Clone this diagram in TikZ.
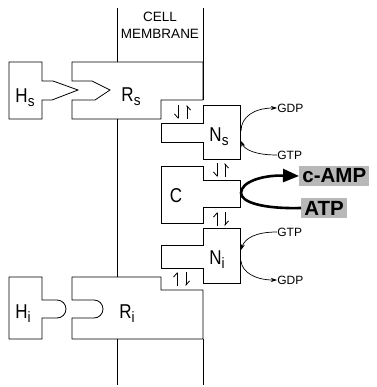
\documentclass[tikz,border=0pt]{standalone}
\usepackage{fontspec}
\setmainfont{Liberation Sans}
\usetikzlibrary{arrows.meta}
\newcommand\mylab[2]{\scalebox{0.85}[1]{#1}\raisebox{-4pt}{\scalebox{0.9}[1]{\fontsize{15}{15}\selectfont #2}}}
\begin{document}
\begin{tikzpicture}[x=1pt,y=-1pt, line width=0.8pt, line join=miter,
  mol/.style={draw=black},
  memb/.style={draw=black},
  lbl/.style={font=\fontsize{20}{20}\selectfont, inner sep=0pt, anchor=base},
  small/.style={font=\fontsize{12}{12}\selectfont, inner sep=0pt, anchor=west},
  hpl/.style={line width=0.8pt, -{Straight Barb[left,length=4pt,width=7pt]}},
  hpr/.style={line width=0.8pt, -{Straight Barb[right,length=4pt,width=7pt]}},
  thin arr/.style={line width=0.7pt, -{Stealth[length=6pt,width=4pt]}},
  big arr/.style={line width=2.6pt, -{Triangle[length=16pt,width=13pt]}},
  halo/.style={fill=black!28, inner sep=3pt, font=\bfseries\fontsize{20.5}{20.5}\selectfont}]
\useasboundingbox (0,0) rectangle (376,387);

% membrane
\draw[memb] (117,8) -- (117,62);
\draw[memb] (117,119) -- (117,277);
\draw[memb] (117,339) -- (117,385);
\draw[memb] (203,8) -- (203,100);
\draw[memb] (203,339) -- (203,385);
\node[font=\fontsize{13.5}{17}\selectfont, align=center, inner sep=0pt] (mem) at (160,25) {CELL\\MEMBRANE};

% Hs and Rs
\draw[mol] (9,62) -- (42,62) -- (42,81) -- (53,81) -- (78,90) -- (52,100) -- (42,100) -- (42,119) -- (9,119) -- cycle;
\draw[mol] (72,62) -- (203,62) -- (203,100) -- (161,100) -- (161,119) -- (72,119) -- (72,100) -- (95,100) -- (110,90) -- (92,81) -- (72,81) -- cycle;
\node[lbl] (hs) at (25,103) {\mylab{H}{s}};
\node[lbl] (rs) at (131,102) {\mylab{R}{s}};

% Ns
\draw[mol] (203,105) -- (240,105) -- (240,159) -- (203,159) -- (203,142) -- (161,142) -- (161,123) -- (203,123) -- cycle;
\node[lbl] (ns) at (219,142) {\mylab{N}{s}};

% C
\draw[mol] (161,166) -- (203,166) -- (203,180) -- (240,180) -- (240,207) -- (203,207) -- (203,223) -- (161,223) -- cycle;
\node[lbl] (c) at (176,202) {\scalebox{0.85}[1]{C}};

% Ni
\draw[mol] (203,228) -- (240,228) -- (240,283) -- (203,283) -- (203,268) -- (161,268) -- (161,245) -- (203,245) -- cycle;
\node[lbl] (ni) at (217,264) {\mylab{N}{i}};

% Hi and Ri
\draw[mol] (9,277) -- (42,277) -- (42,300) -- (57,300) arc[start angle=-90,end angle=90,radius=9] -- (42,318) -- (42,339) -- (9,339) -- cycle;
\draw[mol] (72,277) -- (161,277) -- (161,290) -- (203,290) -- (203,339) -- (72,339) -- (72,318) -- (94,318) arc[start angle=90,end angle=-90,radius=9] -- (72,300) -- cycle;
\node[lbl] (hi) at (23,318) {\mylab{H}{i}};
\node[lbl] (ri) at (127,318) {\mylab{R}{i}};

% equilibrium harpoons
\draw[hpr] (178,105) -- (178,119);
\draw[hpr] (187,119) -- (187,105);
\draw[hpr] (217,163) -- (217,177);
\draw[hpr] (225,177) -- (225,163);
\draw[hpl] (217,226) -- (217,212);
\draw[hpl] (225,212) -- (225,226);
\draw[hpl] (177,286) -- (177,272);
\draw[hpl] (186,272) -- (186,286);

% GDP / GTP
\node[small] (gdp1) at (277,108) {GDP};
\node[small] (gtp1) at (277,155) {GTP};
\node[small] (gtp2) at (277,232) {GTP};
\node[small] (gdp2) at (277,280) {GDP};
\coordinate (ns1) at (241,131);
\coordinate (ns2) at (241,141);
\coordinate (ni1) at (241,250);
\coordinate (ni2) at (241,261);
\draw[thin arr] (ns1) .. controls (241,117) and (254,108) .. (gdp1.west);
\draw[thin arr] (gtp1.west) .. controls (256,155) and (245,150) .. (ns2);
\draw[thin arr] (gtp2.west) .. controls (256,232) and (245,238) .. (ni1);
\draw[thin arr] (ni2) .. controls (242,272) and (255,280) .. (gdp2.west);

% ATP -> c-AMP
\node[halo, anchor=west] (camp) at (299,176) {c-AMP};
\node[halo, anchor=west] (atp) at (301,208) {ATP};
\coordinate (cl) at (241,193);
\draw[big arr] (atp.west) .. controls (262,209) and (241,202) .. (cl) .. controls (241,182) and (262,175) .. (camp.west);
\end{tikzpicture}
\end{document}
